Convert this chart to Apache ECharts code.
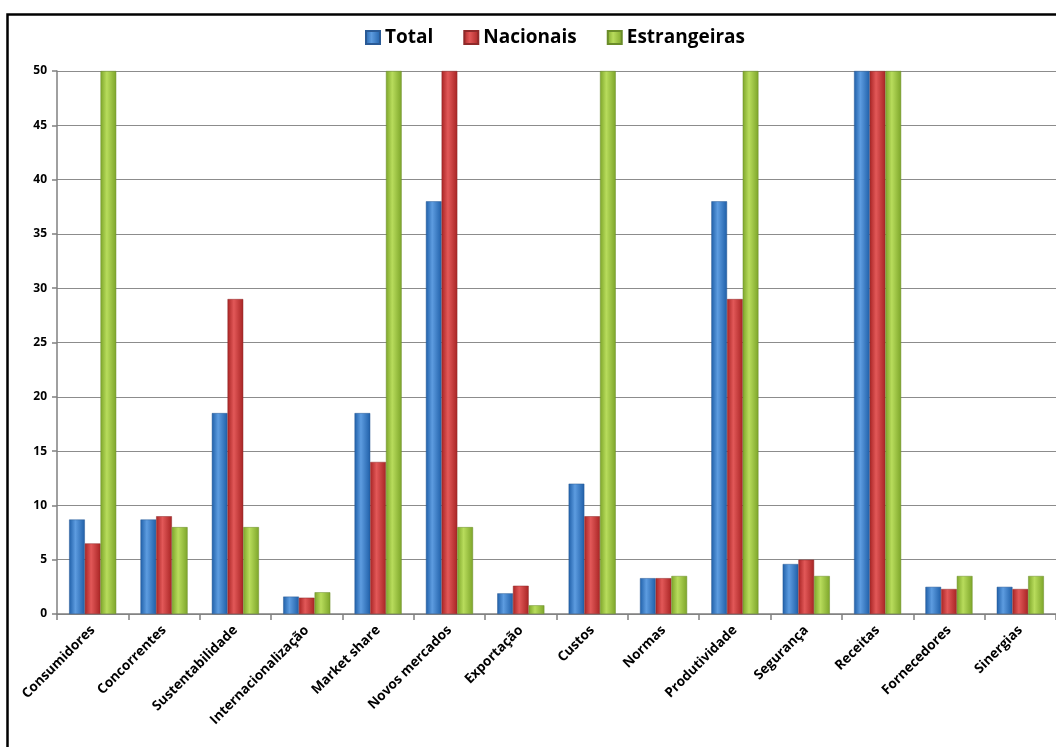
<!DOCTYPE html>
<html>
<head>
<meta charset="utf-8">
<script src="https://cdn.jsdelivr.net/npm/echarts@6/dist/echarts.min.js"></script>
<style>
  html, body { margin: 0; padding: 0; background: #fff; }
  #main { width: 1056px; height: 747px; }
</style>
</head>
<body>
<div id="main"></div>
<script>
const categories = ['Consumidores', 'Concorrentes', 'Sustentabilidade', 'Internacionalização', 'Market share',
  'Novos mercados', 'Exportação', 'Custos', 'Normas', 'Produtividade', 'Segurança', 'Receitas',
  'Fornecedores', 'Sinergias'];
const total = [8.7, 8.7, 18.5, 1.6, 18.5, 38, 1.9, 12, 3.3, 38, 4.6, 50, 2.5, 2.5];
const nacionais = [6.5, 9, 29, 1.5, 14, 50, 2.6, 9, 3.3, 29, 5, 50, 2.3, 2.3];
const estrangeiras = [50, 8, 8, 2, 50, 8, 0.8, 50, 3.5, 50, 3.5, 50, 3.5, 3.5];

function grad(dark, light) {
  return new echarts.graphic.LinearGradient(0, 0, 1, 0, [
    { offset: 0, color: dark },
    { offset: 0.4, color: light },
    { offset: 1, color: dark }
  ]);
}

const chart = echarts.init(document.getElementById('main'));
const font = '"Open Sans", "DejaVu Sans", sans-serif';

const option = {
  animation: false,
  graphic: [{
    type: 'rect',
    left: 5, top: 12,
    shape: { width: 1100, height: 800 },
    style: { fill: 'none', stroke: '#000', lineWidth: 2.5 },
    silent: true
  }],
  legend: {
    top: 23,
    left: 360,
    icon: 'rect',
    itemWidth: 14,
    itemHeight: 13,
    itemGap: 30,
    textStyle: { fontFamily: font, fontWeight: 'bold', fontSize: 19, color: '#000' },
    data: ['Total', 'Nacionais', 'Estrangeiras']
  },
  grid: { left: 57, right: -19, top: 71, bottom: 133, containLabel: false },
  xAxis: {
    type: 'category',
    data: categories,
    axisLine: { lineStyle: { color: '#808080', width: 1.5 } },
    axisTick: { show: true, length: 6, lineStyle: { color: '#808080', width: 1.5 } },
    axisLabel: {
      rotate: 45, interval: 0, margin: 14,
      fontFamily: font, fontWeight: 'bold', fontSize: 13.5, color: '#000'
    }
  },
  yAxis: {
    type: 'value',
    min: 0, max: 50, interval: 5,
    axisLine: { show: true, lineStyle: { color: '#808080', width: 1.5 } },
    axisTick: { show: true, length: 5, lineStyle: { color: '#808080', width: 1.5 } },
    splitLine: { lineStyle: { color: '#8c8c8c', width: 1.2 } },
    axisLabel: { margin: 10, fontFamily: font, fontWeight: 'bold', fontSize: 12, color: '#000' }
  },
  series: [
    {
      name: 'Total', type: 'bar', data: total, barGap: '0%', barCategoryGap: '34%',
      itemStyle: { color: grad('#1f5fa8', '#5d9ce0'), borderColor: '#2a5a95', borderWidth: 0.5 }
    },
    {
      name: 'Nacionais', type: 'bar', data: nacionais, barGap: '0%', barCategoryGap: '34%',
      itemStyle: { color: grad('#a82424', '#e25858'), borderColor: '#8f2a2a', borderWidth: 0.5 }
    },
    {
      name: 'Estrangeiras', type: 'bar', data: estrangeiras, barGap: '0%', barCategoryGap: '34%',
      itemStyle: { color: grad('#7da52a', '#b8dc5c'), borderColor: '#6a8c2a', borderWidth: 0.5 }
    }
  ]
};

chart.setOption(option);
</script>
</body>
</html>
